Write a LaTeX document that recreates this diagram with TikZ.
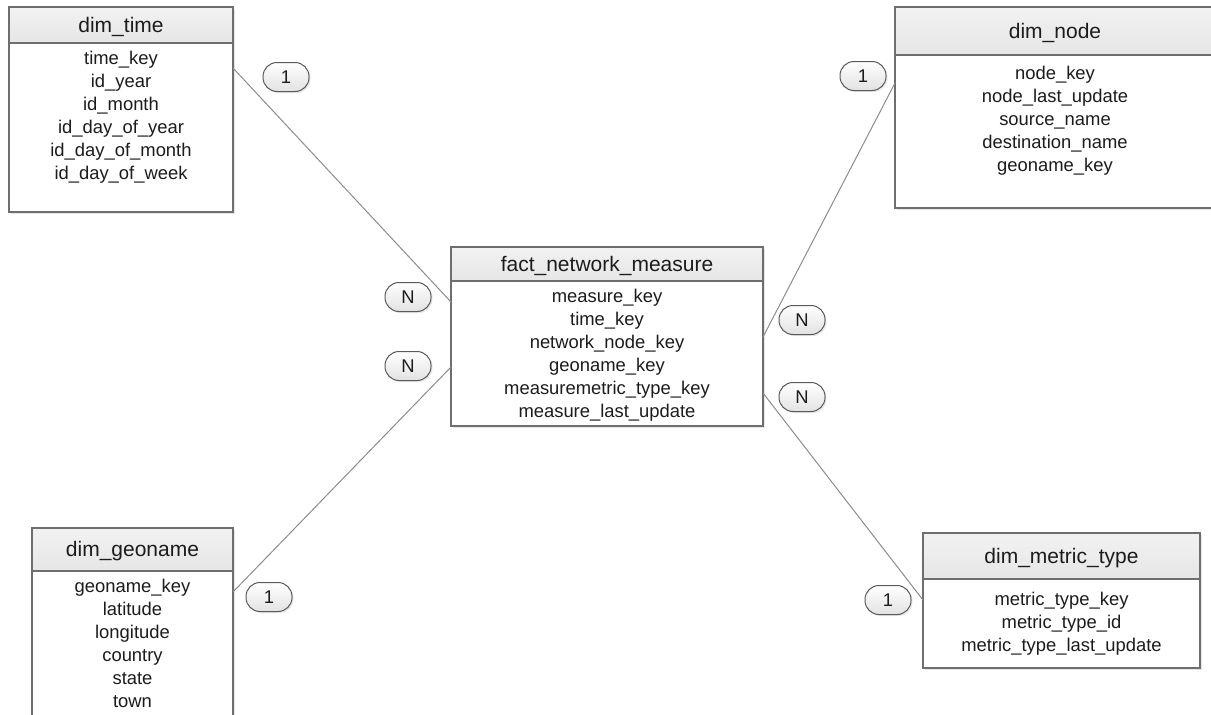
\documentclass[tikz,border=0pt]{standalone}
\usepackage{fontspec}
\setmainfont{Liberation Sans}
\usepackage{tikz}
\usetikzlibrary{shadows}

\definecolor{tableline}{HTML}{6E6E6E}
\definecolor{cardline}{HTML}{5A5A5A}
\definecolor{headtop}{HTML}{F2F2F2}
\definecolor{headbot}{HTML}{E6E6E6}
\definecolor{linkgray}{HTML}{8C8C8C}
\definecolor{cardbot}{HTML}{E2E2E2}
\definecolor{textdark}{HTML}{1C1C1C}

\newcommand{\headfont}{\fontsize{21}{25}\selectfont}
\newcommand{\fieldfont}{\fontsize{18.4}{22.9}\selectfont}

\begin{document}
\begin{tikzpicture}[x=1pt, y=-1pt,
  every node/.style={text=textdark, outer sep=0pt},
  tablehead/.style={draw=tableline, line width=1.1pt, top color=headtop, bottom color=headbot,
    font=\headfont, text height=16pt, text depth=2pt, inner sep=0pt,
    drop shadow={opacity=0.2, shadow xshift=2pt, shadow yshift=-2pt}},
  tablebody/.style={draw=tableline, line width=1.1pt, fill=white, inner sep=0pt,
    drop shadow={opacity=0.2, shadow xshift=2pt, shadow yshift=-2pt}},
  fieldlist/.style={align=center, inner sep=0pt, font=\fieldfont},
  card/.style={draw=cardline, line width=1pt, rounded corners=14pt, top color=white,
    bottom color=cardbot, minimum width=46pt, minimum height=29pt, inner sep=0pt,
    font=\fieldfont, drop shadow={opacity=0.2, shadow xshift=1.5pt, shadow yshift=-1.5pt}},
  link/.style={draw=linkgray, line width=1pt}]

  \useasboundingbox (0,0) rectangle (1211,715);
  \clip (0,0) rectangle (1211,715);

  % dim_time
  \node[tablehead, minimum width=224pt, minimum height=36pt, anchor=north west] (timehead) at (9,7) {dim\_time};
  \node[tablebody, minimum width=224pt, minimum height=169pt, anchor=north west] (timebody) at (timehead.south west) {};
  \node[fieldlist, anchor=north] (timefields) at ([yshift=-8.5pt]timebody.north)
    {time\_key\\id\_year\\id\_month\\id\_day\_of\_year\\id\_day\_of\_month\\id\_day\_of\_week};

  % dim_node
  \node[tablehead, minimum width=320pt, minimum height=48pt, anchor=north west] (nodehead) at (895,7) {dim\_node};
  \node[tablebody, minimum width=320pt, minimum height=153pt, anchor=north west] (nodebody) at (nodehead.south west) {};
  \node[fieldlist, anchor=north] (nodefields) at ([yshift=-11.5pt]nodebody.north)
    {node\_key\\node\_last\_update\\source\_name\\destination\_name\\geoname\_key};

  % fact_network_measure
  \node[tablehead, minimum width=312pt, minimum height=34pt, anchor=north west] (facthead) at (451,247) {fact\_network\_measure};
  \node[tablebody, minimum width=312pt, minimum height=145pt, anchor=north west] (factbody) at (facthead.south west) {};
  \node[fieldlist, anchor=north] (factfields) at ([yshift=-8.5pt]factbody.north)
    {measure\_key\\time\_key\\network\_node\_key\\geoname\_key\\measuremetric\_type\_key\\measure\_last\_update};

  % dim_geoname
  \node[tablehead, minimum width=201pt, minimum height=43pt, anchor=north west] (geohead) at (32,528) {dim\_geoname};
  \node[tablebody, minimum width=201pt, minimum height=170pt, anchor=north west] (geobody) at (geohead.south west) {};
  \node[fieldlist, anchor=north] (geofields) at ([yshift=-8.5pt]geobody.north)
    {geoname\_key\\latitude\\longitude\\country\\state\\town};

  % dim_metric_type
  \node[tablehead, minimum width=277pt, minimum height=46pt, anchor=north west] (metrichead) at (923,533) {dim\_metric\_type};
  \node[tablebody, minimum width=277pt, minimum height=89pt, anchor=north west] (metricbody) at (metrichead.south west) {};
  \node[fieldlist, anchor=north] (metricfields) at ([yshift=-13.5pt]metricbody.north)
    {metric\_type\_key\\metric\_type\_id\\metric\_type\_last\_update};

  % Relations
  \draw[link] ([yshift=-25pt]timebody.north east) -- ([yshift=-21pt]factbody.north west);
  \draw[link] ([yshift=-21pt]geobody.north east) -- ([yshift=-86pt]factbody.north west);
  \draw[link] ([yshift=-28pt]nodebody.north west) -- ([yshift=-56pt]factbody.north east);
  \draw[link] ([yshift=-21pt]metricbody.north west) -- ([yshift=-112pt]factbody.north east);

  % Cardinalites
  \node[card] (timecard) at (286,77) {1};
  \node[card] (nodecard) at (863,76) {1};
  \node[card] (geocard) at (269,597) {1};
  \node[card] (metriccard) at (888,600) {1};
  \node[card] (facttimecard) at (408,297) {N};
  \node[card] (factgeocard) at (408,366) {N};
  \node[card] (factnodecard) at (802,320) {N};
  \node[card] (factmetriccard) at (802,397) {N};
\end{tikzpicture}
\end{document}
